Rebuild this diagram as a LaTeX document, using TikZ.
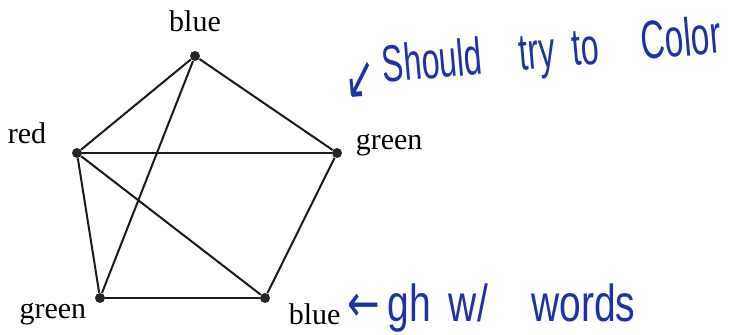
\documentclass[tikz,border=0pt]{standalone}
\usepackage{fontspec}
\setmainfont{Liberation Serif}
\newfontfamily\handfont{Liberation Sans}
\newfontfamily\arrowfont{DejaVu Sans}
\usepackage{tikz}
\usetikzlibrary{positioning,calc}
\definecolor{ink}{RGB}{30,50,165}
\tikzstyle{vertex} = [circle, fill=black!85, inner sep=0pt, minimum size=5pt]
\tikzstyle{colname} = [inner sep=0pt, font=\fontsize{15}{17}\selectfont]
\tikzstyle{link} = [line width=1pt, black!90]
\tikzstyle{hand} = [inner sep=0pt, text=ink, font=\handfont\fontsize{26}{28}\selectfont]

\begin{document}
\begin{tikzpicture}[x=0.5pt, y=-0.5pt]
    \useasboundingbox (0,0) rectangle (736,335);
    % Vertices
    \node [vertex] (top) at (195,56) {};
    \node [vertex] (red) at (77,153) {};
    \node [vertex] (rgt) at (337,153) {};
    \node [vertex] (bl) at (100,298) {};
    \node [vertex] (br) at (265,298) {};

    % Colour names
    \node [colname, above=9pt of top] (topname) {blue};
    \node [colname, left=12.5pt of red, yshift=10pt] (redname) {red};
    \node [colname, right=6.5pt of rgt, yshift=4pt] (rgtname) {green};
    \node [colname, left=4pt of bl, yshift=-8pt] (blname) {green};
    \node [colname, right=9pt of br, yshift=-8pt] (brname) {blue};

    % Edges
    \draw [link] (top) -- (red);
    \draw [link] (top) -- (rgt);
    \draw [link] (top) -- (bl);
    \draw [link] (red) -- (rgt);
    \draw [link] (red) -- (bl);
    \draw [link] (red) -- (br);
    \draw [link] (rgt) -- (br);
    \draw [link] (bl) -- (br);

    % Notes
    \node [hand, anchor=base west, rotate=5] (note) at (345,86)
        {\scalebox{0.62}[1]{\raisebox{-7pt}{\arrowfont\fontsize{30}{30}\selectfont ↙}\hspace{6pt}Should\hspace{30pt}try\hspace{14pt}to\hspace{34pt}{\fontsize{27}{28}\selectfont Color}}};
    \node [hand, anchor=base west] (words) at (347,322)
        {\scalebox{0.75}[1]{{\arrowfont ←}\hspace{5pt}gh\hspace{12pt}w/\hspace{29pt}words}};
\end{tikzpicture}
\end{document}
